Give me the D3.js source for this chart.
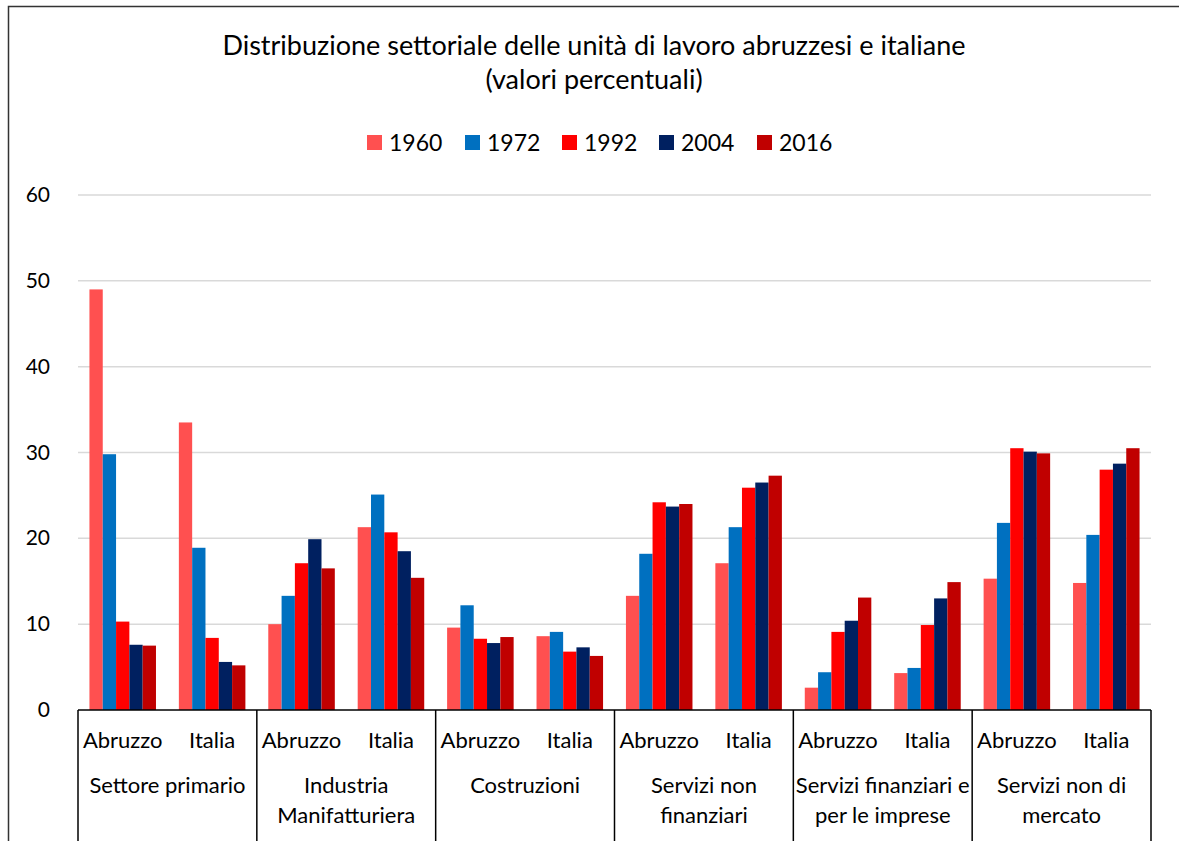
<!DOCTYPE html>
<html>
<head>
<meta charset="UTF-8">
<title>Distribuzione settoriale</title>
<script src="https://d3js.org/d3.v7.min.js"></script>
<style>
  body { margin: 0; background: #fff; }
  svg { display: block; font-family: Lato, "Open Sans", sans-serif; }
</style>
</head>
<body>
<svg id="chart" width="1179" height="841"></svg>
<script>
// dati
const sectors = ["Settore primario", "Industria\nManifatturiera", "Costruzioni",
                 "Servizi non\nfinanziari", "Servizi finanziari e\nper le imprese", "Servizi non di\nmercato"];
const regions = ["Abruzzo", "Italia"];
const years = ["1960", "1972", "1992", "2004", "2016"];
const colors = ["#FF5050", "#0070C0", "#FF0000", "#002060", "#C00000"];
const yTicks = [0, 10, 20, 30, 40, 50, 60];

// valori per anno, nell'ordine settore x regione
const v1960 = [49.0, 33.5, 10.0, 21.3, 9.6, 8.6, 13.3, 17.1, 2.6, 4.3, 15.3, 14.8];
const v1972 = [29.8, 18.9, 13.3, 25.1, 12.2, 9.1, 18.2, 21.3, 4.4, 4.9, 21.8, 20.4];
const v1992 = [10.3, 8.4, 17.1, 20.7, 8.3, 6.8, 24.2, 25.9, 9.1, 9.9, 30.5, 28.0];
const v2004 = [7.6, 5.6, 19.9, 18.5, 7.8, 7.3, 23.7, 26.5, 10.4, 13.0, 30.1, 28.7];
const v2016 = [7.5, 5.2, 16.5, 15.4, 8.5, 6.3, 24.0, 27.3, 13.1, 14.9, 29.9, 30.5];
const series = [v1960, v1972, v1992, v2004, v2016];

const svg = d3.select("#chart");

// bordo del grafico
svg.append("path")
  .attr("d", "M8.5,841 V6.5 H1179")
  .attr("fill", "none").attr("stroke", "#333").attr("stroke-width", 1.5);

const plotLeft = 78, plotRight = 1151, plotTop = 195, plotBottom = 710;

const clusters = [];
sectors.forEach((s, i) => regions.forEach(r => clusters.push(i + "|" + r)));

const x0 = d3.scaleBand().domain(clusters).range([plotLeft, plotRight]).paddingInner(0).paddingOuter(0);
const x1 = d3.scaleBand().domain(years).range([0, x0.bandwidth()]).paddingInner(0).paddingOuter(0.86);
const y = d3.scaleLinear().domain([0, 60]).range([plotBottom, plotTop]);

// griglia
svg.append("g")
  .selectAll("line").data(yTicks.filter(t => t > 0)).join("line")
  .attr("x1", plotLeft).attr("x2", plotRight)
  .attr("y1", d => y(d)).attr("y2", d => y(d))
  .attr("stroke", "#d9d9d9").attr("stroke-width", 1.5);

// etichette asse y
svg.append("g")
  .selectAll("text").data(yTicks).join("text")
  .attr("x", 50).attr("y", d => y(d) + 7)
  .attr("text-anchor", "end")
  .attr("font-size", 21).attr("fill", "#000")
  .text(d => d);

// barre
years.forEach((yr, k) => {
  svg.append("g")
    .selectAll("rect").data(series[k]).join("rect")
    .attr("x", (d, i) => x0(clusters[i]) + x1(yr))
    .attr("width", x1.bandwidth())
    .attr("y", d => y(d))
    .attr("height", d => y(0) - y(d))
    .attr("fill", colors[k]);
});

// asse x
svg.append("line")
  .attr("x1", plotLeft).attr("x2", plotRight).attr("y1", plotBottom).attr("y2", plotBottom)
  .attr("stroke", "#000").attr("stroke-width", 1.5);

const sectorW = (plotRight - plotLeft) / sectors.length;
svg.append("g")
  .selectAll("line").data(d3.range(sectors.length + 1)).join("line")
  .attr("x1", d => plotLeft + d * sectorW).attr("x2", d => plotLeft + d * sectorW)
  .attr("y1", plotBottom).attr("y2", 841)
  .attr("stroke", "#000").attr("stroke-width", 1.5);

svg.append("g")
  .selectAll("text").data(clusters).join("text")
  .attr("x", d => x0(d) + x0.bandwidth() / 2)
  .attr("y", 748)
  .attr("text-anchor", "middle")
  .attr("font-size", 22)
  .text(d => d.split("|")[1]);

const sLab = svg.append("g")
  .selectAll("text").data(sectors).join("text")
  .attr("x", (d, i) => plotLeft + (i + 0.5) * sectorW)
  .attr("y", 793)
  .attr("text-anchor", "middle")
  .attr("font-size", 22);
sLab.selectAll("tspan").data(d => d.split("\n")).join("tspan")
  .attr("x", function() { return this.parentNode.getAttribute("x"); })
  .attr("dy", (d, i) => i === 0 ? 0 : 30)
  .text(d => d);

// titolo
svg.append("text")
  .attr("x", 594).attr("y", 55).attr("text-anchor", "middle")
  .attr("font-size", 27)
  .text("Distribuzione settoriale delle unità di lavoro abruzzesi e italiane");
svg.append("text")
  .attr("x", 594).attr("y", 89).attr("text-anchor", "middle")
  .attr("font-size", 27)
  .text("(valori percentuali)");

// legenda
const legendX = [367, 465, 562, 659, 757];
const lg = svg.append("g").selectAll("g").data(years).join("g")
  .attr("transform", (d, i) => `translate(${legendX[i]},135)`);
lg.append("rect").attr("width", 15).attr("height", 15).attr("fill", (d, i) => colors[i]);
lg.append("text").attr("x", 22).attr("y", 15.5).attr("font-size", 23).text(d => d);
</script>
</body>
</html>
